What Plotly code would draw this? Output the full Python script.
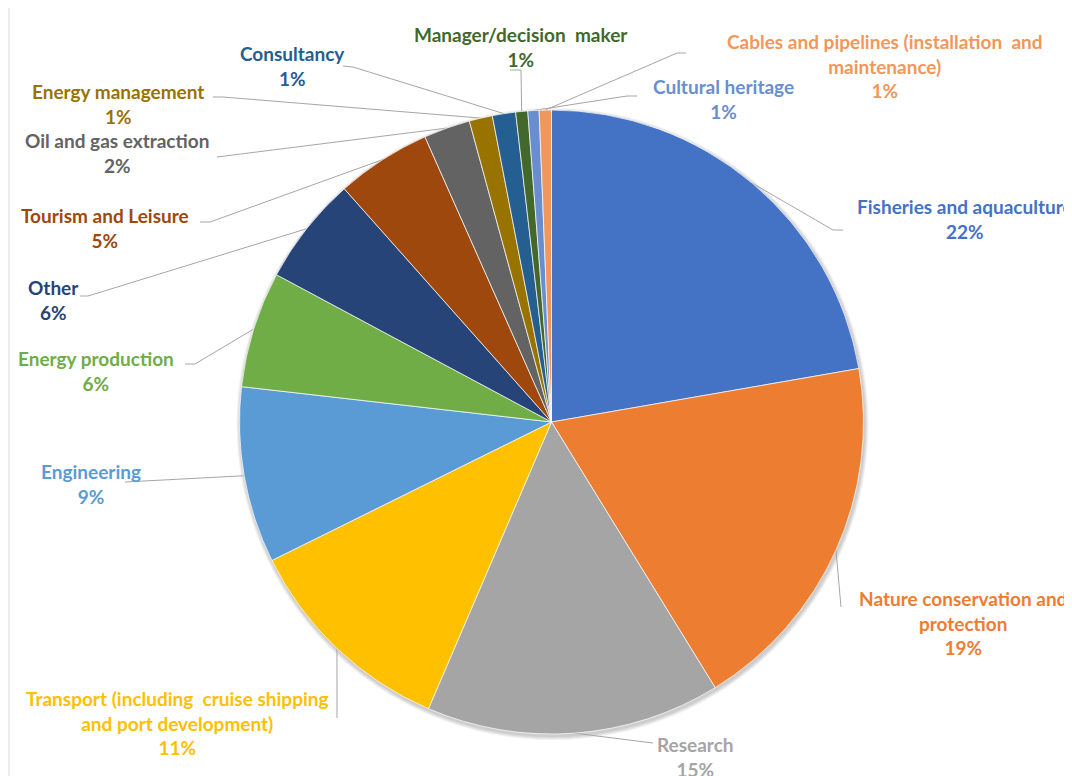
import math
import plotly.graph_objects as go

# Datos del gráfico (porcentaje de encuestados por sector)
sectors = [
    "Fisheries and aquaculture",
    "Nature conservation and<br>protection",
    "Research",
    "Transport (including  cruise shipping<br>and port development)",
    "Engineering",
    "Energy production",
    "Other",
    "Tourism and Leisure",
    "Oil and gas extraction",
    "Energy management",
    "Consultancy",
    "Manager/decision  maker",
    "Cultural heritage",
    "Cables and pipelines (installation  and<br>maintenance)",
]
shares = [22.2, 18.9, 15.2, 11.2, 9.1, 6.0, 5.6, 4.9, 2.4, 1.2, 1.2, 0.62, 0.58, 0.63]
colors = [
    "#4472C4", "#ED7D31", "#A5A5A5", "#FFC000", "#5B9BD5", "#70AD47",
    "#264478", "#9E480E", "#636363", "#997300", "#255E91", "#43682B",
    "#698ED0", "#F1975A",
]

# Geometría en pixeles de pantalla (la página tiene 8 px de margen)
W, H = 1072, 776
OFF = 8
cx, cy, r = 551.5, 422, 312

# Posición de cada etiqueta (centro del bloque) y del codo / final de la línea guía
label_pos = [
    (965, 219), (963, 623), (695, 757), (177, 723), (91, 484), (96, 371), (53, 300),
    (105, 228), (117, 153), (118, 104), (292, 66), (521, 47), (723, 99), (885, 66),
]
leader_pts = [
    [(833, 230), (843, 230)],
    [(841, 607)],
    [(648, 743), (653, 743)],
    [(337, 718)],
    [(135, 482), (125, 482)],
    [(195, 364), (185, 364)],
    [(88, 296), (80, 296)],
    [(210, 222), (200, 222)],
    [(227, 156), (217, 157)],
    [(223, 97), (213, 97)],
    [(353, 67), (343, 66)],
    [(521, 70), (510, 70)],
    [(627, 96), (637, 96)],
    [(677, 53), (686, 53)],
]

total = sum(shares)

fig = go.Figure()

fig.add_trace(go.Pie(
    labels=sectors,
    values=shares,
    sort=False,
    direction="clockwise",
    rotation=0,
    marker=dict(colors=colors, line=dict(color="white", width=0.7)),
    textinfo="none",
    hoverinfo="label+percent",
    showlegend=False,
    domain=dict(x=[(cx - OFF - r) / W, (cx - OFF + r) / W],
                y=[(H - (cy - OFF) - r) / H, (H - (cy - OFF) + r) / H]),
))

# Líneas guía desde el borde de cada sector hasta su etiqueta
acc = 0.0
for i, v in enumerate(shares):
    mid = (acc + v / 2) / total * 2 * math.pi
    acc += v
    x0 = cx + r * math.sin(mid)
    y0 = cy - r * math.cos(mid)
    xs = [x0] + [p[0] for p in leader_pts[i]]
    ys = [y0] + [p[1] for p in leader_pts[i]]
    fig.add_trace(go.Scatter(
        x=xs, y=ys, mode="lines",
        line=dict(color="#A6A6A6", width=1),
        hoverinfo="skip", showlegend=False,
    ))

# Etiquetas
for i, name in enumerate(sectors):
    pct = max(round(shares[i] / total * 100), 1)
    fig.add_annotation(
        x=label_pos[i][0], y=label_pos[i][1], xref="x", yref="y",
        text=f"<b>{name}<br>{pct}%</b>",
        showarrow=False, xanchor="center", yanchor="middle",
        font=dict(family="Lato", size=19, color=colors[i]),
    )

# Sombra suave del pastel
shapes = []
for k in range(4, 0, -1):
    shapes.append(dict(
        type="circle", xref="x", yref="y", layer="below",
        x0=cx - r - k + 1, x1=cx + r + k + 1, y0=cy - r - k + 2, y1=cy + r + k + 2,
        fillcolor="rgba(0,0,0,0.05)", line=dict(width=0),
    ))
# Borde izquierdo del área del gráfico
shapes.append(dict(type="line", xref="x", yref="y", x0=9, x1=9, y0=OFF, y1=H + OFF,
                   line=dict(color="#D9D9D9", width=1)))

fig.update_layout(
    width=W, height=H,
    margin=dict(l=0, r=0, t=0, b=0),
    paper_bgcolor="white",
    plot_bgcolor="rgba(0,0,0,0)",
    xaxis=dict(range=[OFF, W + OFF], visible=False, fixedrange=True),
    yaxis=dict(range=[H + OFF, OFF], visible=False, fixedrange=True),
    shapes=shapes,
)

fig.write_html("out.html")
